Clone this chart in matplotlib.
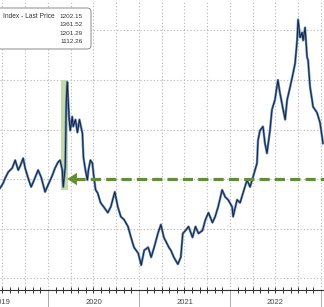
import matplotlib
matplotlib.use("Agg")
import matplotlib.pyplot as plt
import matplotlib.dates as mdates
from matplotlib.patches import FancyBboxPatch, Rectangle
import numpy as np

# ------------------------------------------------------------------
# data (roughly every 10-15 days)
# ------------------------------------------------------------------
dates = [
    "2019-06-23", "2019-07-05", "2019-07-13", "2019-07-25", "2019-08-10", "2019-08-22",
    "2019-09-03", "2019-09-11", "2019-09-23", "2019-10-01", "2019-10-13", "2019-10-25",
    "2019-11-06", "2019-11-22", "2019-12-04", "2019-12-20", "2020-01-01", "2020-01-17",
    "2020-01-29", "2020-02-10", "2020-02-18", "2020-02-27", "2020-03-02", "2020-03-10",
    "2020-03-14", "2020-03-18", "2020-03-26", "2020-03-30", "2020-04-07", "2020-04-11",
    "2020-04-20", "2020-04-28", "2020-05-06", "2020-05-18", "2020-05-22", "2020-05-30",
    "2020-06-07", "2020-06-11", "2020-06-19", "2020-06-27", "2020-07-02", "2020-07-10",
    "2020-07-18", "2020-07-30", "2020-08-11", "2020-08-28", "2020-09-09", "2020-09-25",
    "2020-10-07", "2020-10-19", "2020-11-01", "2020-11-17", "2020-11-29", "2020-12-11",
    "2020-12-28", "2021-01-09", "2021-01-21", "2021-02-06", "2021-02-18", "2021-03-02",
    "2021-03-17", "2021-03-29", "2021-04-10", "2021-04-30", "2021-05-08", "2021-05-20",
    "2021-06-05", "2021-06-17", "2021-06-25", "2021-07-06", "2021-07-18", "2021-08-03",
    "2021-08-15", "2021-08-27", "2021-09-12", "2021-09-24", "2021-10-06", "2021-10-22",
    "2021-11-02", "2021-11-14", "2021-11-30", "2021-12-12", "2021-12-24", "2022-01-09",
    "2022-01-13", "2022-01-29", "2022-02-10", "2022-02-22", "2022-03-10", "2022-03-22",
    "2022-04-03", "2022-04-19", "2022-04-23", "2022-05-01", "2022-05-13", "2022-05-21",
    "2022-05-29", "2022-06-10", "2022-06-18", "2022-06-30", "2022-07-12", "2022-07-20",
    "2022-08-02", "2022-08-10", "2022-08-18", "2022-08-30", "2022-09-11", "2022-09-19",
    "2022-09-27", "2022-10-01", "2022-10-09", "2022-10-17", "2022-10-21", "2022-10-29",
    "2022-11-06", "2022-11-10", "2022-11-18", "2022-11-26", "2022-11-30", "2022-12-16",
    "2022-12-28", "2023-01-09",
]
last_price = [
    1191, 1196, 1201, 1207, 1211, 1219,
    1209, 1213, 1221, 1211, 1201, 1192,
    1199, 1209, 1202, 1187, 1194, 1203,
    1211, 1217, 1219, 1209, 1192, 1212,
    1277, 1298, 1260, 1249, 1263, 1253,
    1260, 1247, 1260, 1246, 1222, 1209,
    1199, 1209, 1219, 1216, 1204, 1189,
    1186, 1176, 1172, 1166, 1172, 1187,
    1172, 1162, 1159, 1152, 1141, 1131,
    1125, 1113, 1128, 1131, 1121, 1131,
    1145, 1154, 1141, 1131, 1128, 1121,
    1114, 1121, 1145, 1148, 1152, 1141,
    1152, 1145, 1148, 1159, 1166, 1156,
    1162, 1172, 1189, 1182, 1179, 1172,
    1162, 1179, 1176, 1186, 1199, 1192,
    1202, 1216, 1239, 1249, 1253, 1236,
    1226, 1249, 1270, 1280, 1300, 1287,
    1270, 1260, 1280, 1293, 1307, 1317,
    1340, 1361, 1343, 1348, 1340, 1353,
    1323, 1320, 1293, 1280, 1273, 1267,
    1257, 1236,
]
legend_title = "Index - Last Price"
legend_values = ["1202.15", "1361.52", "1201.29", "1112.26"]
year_labels = ["2019", "2020", "2021", "2022"]
ref_level = 1200
spike_window = ("2020-02-22", "2020-03-21")
spike_range = (1189, 1300)
arrow_tip = "2020-03-18"

x = mdates.datestr2num(dates)

W, H = 324, 307
fig = plt.figure(figsize=(W / 100, H / 100), dpi=100)
ax = fig.add_axes([0, 17 / H, 1, 290 / H])

ax.set_xlim(mdates.datestr2num("2019-06-22"), mdates.datestr2num("2023-01-13"))
ax.set_ylim(1087.9, 1380.8)

# grid
ax.set_yticks(np.arange(1100, 1400, 50))
ax.xaxis.set_major_locator(mdates.YearLocator())
ax.xaxis.set_minor_locator(mdates.MonthLocator())
for q in mdates.datestr2num(["2019-07-01", "2019-10-01", "2020-04-01", "2020-07-01", "2020-10-01",
                             "2021-04-01", "2021-07-01", "2021-10-01", "2022-04-01", "2022-07-01",
                             "2022-10-01", "2020-01-01", "2021-01-01", "2022-01-01", "2023-01-01"]):
    ax.axvline(q, color="#b5b5b5", lw=0.8, ls=(0, (1, 2)), zorder=0)
ax.yaxis.grid(True, color="#b5b5b5", lw=0.8, ls=(0, (1, 2)), zorder=0)
ax.set_axisbelow(True)

# highlighted covid spike
ax.add_patch(Rectangle((mdates.datestr2num(spike_window[0]), spike_range[0]),
                       mdates.datestr2num(spike_window[1]) - mdates.datestr2num(spike_window[0]),
                       spike_range[1] - spike_range[0], facecolor="#c6dba8", edgecolor="none", zorder=1))

# series
ax.plot(x, last_price, color="#5a86c4", lw=1.7, zorder=2)
ax.plot(x, last_price, color="#1b2230", lw=0.7, zorder=3)

# dashed arrow back to pre-covid level
green = "#62902a"
tip = mdates.datestr2num(arrow_tip)
ax.plot([tip + 30, ax.get_xlim()[1] + 5], [ref_level, ref_level], color=green, lw=2.3,
        ls=(0, (3.2, 1.6)), solid_capstyle="butt", zorder=4, clip_on=False)
ax.annotate("", xy=(tip, ref_level), xytext=(tip + 40, ref_level),
            arrowprops=dict(arrowstyle="-|>,head_length=0.7,head_width=0.45", color=green, lw=0,
                            mutation_scale=10, shrinkA=0, shrinkB=0), zorder=4)

# axes cosmetics
for s in ["left", "right", "top"]:
    ax.spines[s].set_visible(False)
ax.spines["bottom"].set_color("#333333")
ax.spines["bottom"].set_linewidth(0.8)
ax.tick_params(axis="y", left=False, labelleft=False)
ax.tick_params(axis="x", which="major", direction="out", length=12, color="#aaaaaa", width=0.7,
               labelbottom=False)
ax.tick_params(axis="x", which="minor", direction="inout", length=4, color="#333333", width=0.7)

for yr in year_labels:
    ax.text(mdates.datestr2num(yr + "-07-02"), -0.042, yr, transform=ax.get_xaxis_transform(),
            ha="center", va="center", fontsize=5.5, color="#444444", family="Liberation Sans")

# legend box (top-left, clipped by the left edge)
def fx(px):
    return px / W

def fy(py):
    return 1 - py / H

box = FancyBboxPatch((fx(-20), fy(49)), fx(111), 41 / H, boxstyle="round,pad=0,rounding_size=0.012",
                     transform=fig.transFigure, facecolor="white", edgecolor="#8a8a8a", lw=0.7, zorder=5)
fig.add_artist(box)
fig.text(fx(3), fy(16), legend_title, ha="left", va="center", fontsize=4.8, color="#333333",
         family="Liberation Sans", zorder=6)
for i, v in enumerate(legend_values):
    fig.text(fx(83), fy(16 + i * 8.6), v, ha="right", va="center", fontsize=4.6, color="#333333",
             family="Liberation Sans", zorder=6)

fig.savefig("out.png", dpi=100)
